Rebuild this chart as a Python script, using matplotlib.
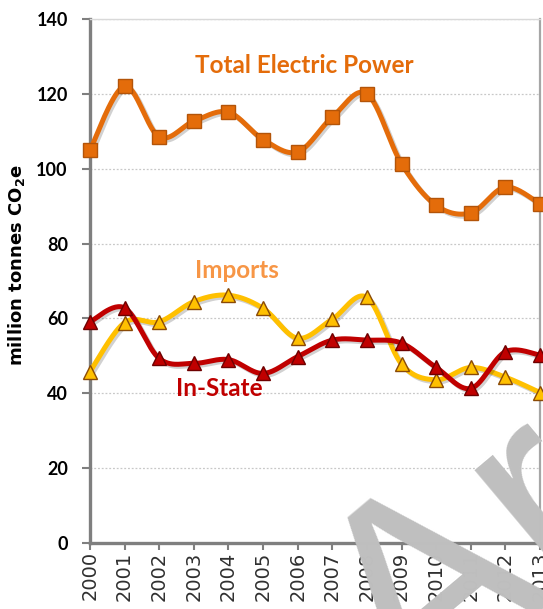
import numpy as np
import matplotlib
matplotlib.use("Agg")
import matplotlib.pyplot as plt
import matplotlib.patheffects as pe

years = list(range(2000, 2014))
total_power = [105, 122, 108.5, 112.7, 115.1, 107.8, 104.5, 113.8, 120, 101.3, 90.2, 88.2, 95.1, 90.6]
imports = [45.8, 58.9, 59.1, 64.5, 66.2, 62.7, 54.7, 59.8, 65.6, 47.8, 43.6, 46.9, 44.3, 40.2]
in_state = [59.1, 62.8, 49.3, 48, 49, 45.3, 49.8, 54.2, 54.2, 53.4, 46.9, 41.3, 51.1, 50.2]
y_ticks = [0, 20, 40, 60, 80, 100, 120, 140]

plt.rcParams['font.family'] = ['Lato', 'DejaVu Sans']
plt.rcParams['mathtext.default'] = 'regular'


def smooth(x, y, n=30):
    # excel style smoothed line: bezier through the points (catmull-rom)
    pts = np.column_stack([x, y]).astype(float)
    p = np.vstack([pts[0], pts, pts[-1]])
    t = np.linspace(0, 1, n)[:, None]
    out = []
    for i in range(1, len(p) - 2):
        p0, p1, p2, p3 = p[i - 1], p[i], p[i + 1], p[i + 2]
        c1 = p1 + (p2 - p0) / 6
        c2 = p2 - (p3 - p1) / 6
        out.append((1 - t)**3 * p1 + 3 * (1 - t)**2 * t * c1 + 3 * (1 - t) * t**2 * c2 + t**3 * p2)
    out = np.vstack(out)
    return out[:, 0], out[:, 1]


fig = plt.figure(figsize=(5.43, 6.09), dpi=100)
ax = fig.add_axes([90 / 543, 66 / 609, 450 / 543, 524 / 609])

shadow = [pe.SimpleLineShadow(offset=(1.5, -1.5), alpha=0.18), pe.Normal()]

series = [
    (total_power, '#e46c0a', 's', '#b35409'),
    (imports, '#ffc000', '^', '#8a4a06'),
    (in_state, '#c00000', '^', '#6e0000'),
]
for vals, col, mk, edge in series:
    sx, sy = smooth(years, vals)
    ax.plot(sx, sy, color=col, lw=3.6, solid_capstyle='round', zorder=3, path_effects=shadow)
    ax.plot(years, vals, ls='none', marker=mk, ms=10.5, mfc=col, mec=edge, mew=1.0,
            zorder=4, clip_on=False)

ax.set_xlim(2000, 2013)
ax.set_ylim(0, 140)
ax.set_yticks(y_ticks)
ax.set_xticks(years)
ax.set_xticklabels([str(y) for y in years], rotation=90, fontsize=14, family='DejaVu Sans',
                   color='#303030')
ax.set_yticklabels([str(v) for v in y_ticks], fontsize=13, fontweight='bold')

ax.grid(axis='y', color='#c8c8c8', lw=0.9, ls=(0, (1.5, 1.5)))
ax.set_axisbelow(True)

for s in ['left', 'bottom']:
    ax.spines[s].set_color('#7f7f7f')
    ax.spines[s].set_linewidth(2.4)
ax.spines['top'].set_color('#d9d9d9')
ax.spines['top'].set_linewidth(1.0)
ax.spines['right'].set_color('#a6a6a6')
ax.spines['right'].set_linewidth(1.6)

ax.tick_params(axis='y', length=6, width=1.5, color='#7f7f7f', pad=10)
ax.tick_params(axis='x', length=5, width=1.5, color='#7f7f7f', pad=1)

ax.set_ylabel('million tonnes CO$_2$e', fontsize=13, fontweight='bold', family='DejaVu Sans')
ax.yaxis.set_label_coords(-0.14, 0.53)

ax.text(2006.18, 127.7, 'Total Electric Power', color='#e46c0a', fontsize=17.5,
        fontweight='bold', ha='center', va='center')
ax.text(2004.25, 72.9, 'Imports', color='#f79646', fontsize=17.5,
        fontweight='bold', ha='center', va='center')
ax.text(2003.74, 41.4, 'In-State', color='#c00000', fontsize=17.5,
        fontweight='bold', ha='center', va='center')

# grey watermark across the lower right corner
fig.text(0.757, -0.18, 'Archive', fontsize=205, color='#bfbfbf', rotation=40,
         rotation_mode='anchor', ha='left', va='baseline', family='Liberation Sans',
         zorder=10)

fig.savefig('out.png', dpi=100)
